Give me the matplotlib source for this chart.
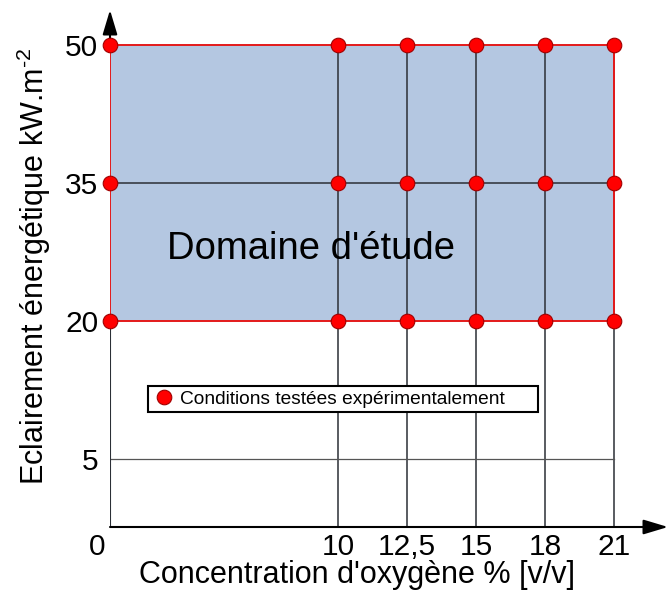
import numpy as np
import matplotlib
matplotlib.use("Agg")
import matplotlib.pyplot as plt
import matplotlib.transforms as mtransforms

# ---- data ----
oxygen = [0, 10, 12.5, 15, 18, 21]          # % [v/v]
irradiance = [20, 35, 50]                    # kW.m-2 tested
y_ticks = [5, 20, 35, 50]
x_tick_labels = ["0", "10", "12,5", "15", "18", "21"]
y_tick_labels = ["5", "20", "35", "50"]
domain_x = [0, 21]
domain_y = [20, 50]

plt.rcParams['font.family'] = ['Liberation Sans', 'DejaVu Sans']
plt.rcParams['axes.unicode_minus'] = False

W, H = 671, 591
fig = plt.figure(figsize=(W / 100, H / 100), dpi=100)
ax = fig.add_axes([110 / W, (H - 527) / H, 558 / W, 517 / H])

# schematic (non-uniform) axis scales
xv = np.array([0, 10, 12.5, 15, 18, 21, 40.0])
xp = np.array([0, 228, 297, 366, 435, 504, 504 + 19 * 23.0])
yv = np.array([0, 5, 20, 35, 50, 100.0])
yp = np.array([0, 68, 206, 344, 482, 482 + 50 * 9.2])
ax.set_xscale('function', functions=(lambda v: np.interp(v, xv, xp),
                                     lambda p: np.interp(p, xp, xv)))
ax.set_yscale('function', functions=(lambda v: np.interp(v, yv, yp),
                                     lambda p: np.interp(p, yp, yv)))
ax.set_xlim(0, 21 + 54 / 23)
ax.set_ylim(0, 50 + 35 / 9.2)

for s in ax.spines.values():
    s.set_visible(False)

# domain fill
ax.fill([domain_x[0], domain_x[1], domain_x[1], domain_x[0]],
        [domain_y[0], domain_y[0], domain_y[1], domain_y[1]],
        facecolor='#b4c7e1', edgecolor='none', zorder=1)

# grid lines
for xv_ in oxygen[1:]:
    ax.plot([xv_, xv_], [0, domain_y[1]], color='#2b2f36', lw=1.1, zorder=2)
ax.plot(domain_x, [35, 35], color='#2b2f36', lw=1.1, zorder=2)
ax.plot(domain_x, [5, 5], color='#555555', lw=0.9, zorder=2)
ax.plot([0, 0], [0, domain_y[0]], color='#2b2f36', lw=1.5, zorder=2)

# domain border (red)
ax.plot([domain_x[0], domain_x[1], domain_x[1], domain_x[0], domain_x[0]],
        [domain_y[0], domain_y[0], domain_y[1], domain_y[1], domain_y[0]],
        color='#e41a1a', lw=1.4, zorder=3)

# axes arrows
arrow = dict(arrowstyle='-|>,head_length=1.5,head_width=0.45', color='black',
             lw=1.5, mutation_scale=10, shrinkA=0, shrinkB=0)
ax.annotate('', xy=(1, 0), xytext=(0, 0), xycoords='axes fraction',
            textcoords='axes fraction', arrowprops=arrow, zorder=2)
ax.annotate('', xy=(0, 1), xytext=(0, 0.92), xycoords='axes fraction',
            textcoords='axes fraction', arrowprops=arrow, zorder=2)

# tested conditions
X, Y = np.meshgrid(oxygen, irradiance)
ax.plot(X.ravel(), Y.ravel(), linestyle='none', marker='o', markersize=10.5,
        markerfacecolor='#ff0000', markeredgecolor='#a00000', markeredgewidth=0.8,
        zorder=5, clip_on=False, label='Conditions testées expérimentalement')

# ticks
ax.set_xticks(oxygen)
ax.set_xticklabels(x_tick_labels)
ax.set_yticks(y_ticks)
ax.set_yticklabels(y_tick_labels)
ax.minorticks_off()
ax.tick_params(axis='both', length=0, labelsize=21.5, colors='black')
ax.tick_params(axis='x', pad=4.5)
ax.tick_params(axis='y', pad=8.5)
lbl0 = ax.get_xticklabels()[0]
lbl0.set_horizontalalignment('right')
lbl0.set_transform(lbl0.get_transform() +
                   mtransforms.ScaledTranslation(-3 / 72, 0, fig.dpi_scale_trans))

ax.set_xlabel("Concentration d'oxygène % [v/v]", fontsize=22, va='center')
ax.xaxis.set_label_coords((357 - 110) / 558, (527 - 575) / 517)
ax.set_ylabel("Eclairement énergétique kW.m$^{\\mathregular{\u20102}}$", fontsize=22, va='center')
ax.yaxis.set_label_coords((34 - 110) / 558, (527 - 266) / 517)

ax.text((311 - 110) / 558, (527 - 259) / 517, "Domaine d'étude", transform=ax.transAxes,
        fontsize=27.5, ha='center', va='baseline', zorder=4)

leg = ax.legend(loc='lower left', mode='expand', borderaxespad=0,
                bbox_to_anchor=(148 / W, (H - 412) / H, 390 / W, 31 / H),
                bbox_transform=fig.transFigure, fontsize=13.8, frameon=True,
                fancybox=False, borderpad=0.23, handlelength=1.2,
                handletextpad=0.25, markerscale=1.0)
leg.get_frame().set_edgecolor('black')
leg.get_frame().set_linewidth(1.5)
leg.get_frame().set_alpha(1)

fig.savefig('out.png', dpi=100)
